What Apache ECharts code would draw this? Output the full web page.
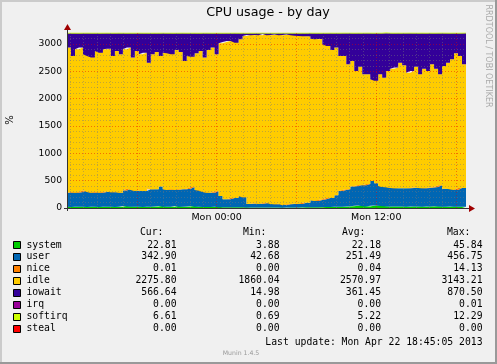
<!DOCTYPE html>
<html>
<head>
<meta charset="utf-8">
<script src="https://cdn.jsdelivr.net/npm/echarts@6/dist/echarts.min.js"></script>
<style>
html,body{margin:0;padding:0;background:#f0f0f0;}
#c{width:497px;height:364px;}
</style>
</head>
<body>
<div id="c"></div>
<script>
// ---- data (hours relative to Mon 00:00; one sample every 0.3 h) ----
const startHour = -11.25;
const stepHour = 0.3;
const endHour = 18.75;

const xTickValues = [0, 12];
const xTickLabels = ['Mon 00:00', 'Mon 12:00'];
const yTickValues = [0, 500, 1000, 1500, 2000, 2500, 3000];

const systemVals = [
 22,20,22,24,22,20,22,24,20,22,
 24,22,20,22,35,28,22,24,22,20,
 24,22,26,38,24,22,24,36,22,24,
 26,38,24,22,20,18,20,22,16,14,
 14,16,15,16,14,10,9,8,10,9,
 8,10,9,8,4,9,10,8,9,12,
 12,14,15,16,18,18,20,22,24,25,
 28,30,42,44,30,28,40,45,42,30,
 28,26,26,28,26,25,26,28,26,25,
 26,28,30,26,24,25,26,24,22,23];
const userVals = [
 259,273,259,269,302,273,259,269,261,271,
 275,265,273,259,283,326,308,287,296,291,
 318,320,316,353,318,308,318,294,320,318,
 328,347,306,296,273,263,261,283,204,145,
 145,167,168,204,181,63,70,77,63,76,
 90,63,58,71,45,58,63,71,64,86,
 86,126,113,131,141,165,163,210,287,305,
 314,361,361,377,385,412,456,407,361,355,
 351,340,334,332,334,335,340,345,340,335,
 340,345,355,389,330,329,316,306,344,343];
const niceVals = [
 0,0,0,0,0,0,0,0,0,0,
 0,0,0,0,0,0,0,0,0,0,
 14,0,0,0,0,0,0,0,0,0,
 0,0,0,0,0,0,0,0,0,0,
 0,0,0,0,0,0,0,0,0,0,
 0,0,0,0,0,0,0,0,0,0,
 0,0,0,0,0,0,0,0,0,0,
 0,0,0,0,0,0,0,0,0,0,
 0,0,0,0,0,0,0,0,0,0,
 0,0,0,0,0,0,0,0,0,0];
const idleVals = [
 2652,2487,2621,2640,2487,2487,2469,2579,2560,2609,
 2615,2493,2579,2530,2584,2579,2420,2561,2493,2530,
 2302,2469,2511,2389,2499,2499,2469,2560,2511,2347,
 2426,2383,2499,2554,2457,2609,2652,2506,2792,2877,
 2896,2872,2841,2865,2951,3092,3079,3080,3085,3095,
 3060,3092,3104,3079,3116,3104,3085,3073,3073,3042,
 3042,2957,2957,2944,2835,2780,2707,2701,2469,2450,
 2286,2298,2103,2164,2030,2005,1860,1873,2042,1999,
 2127,2182,2207,2298,2249,2115,2140,2212,2079,2188,
 2140,2255,2163,2030,2243,2304,2377,2499,2414,2262];
const iowaitVals = [
 262,415,293,262,384,415,445,323,354,293,
 281,415,323,384,293,262,445,323,384,354,
 537,384,342,415,354,366,384,305,342,506,
 415,427,366,323,445,305,262,384,183,159,
 140,140,171,110,49,30,37,30,37,15,
 37,30,24,37,30,24,37,43,49,55,
 55,98,110,104,201,232,305,262,415,415,
 567,506,689,610,750,750,839,870,750,811,
 689,647,628,537,586,720,689,610,750,647,
 689,567,647,750,598,537,476,366,415,567];
const irqVals = [
 0,0,0,0,0,0,0,0,0,0,
 0,0,0,0,0,0,0,0,0,0,
 0,0,0,0,0,0,0,0,0,0,
 0,0,0,0,0,0,0,0,0,0,
 0,0,0,0,0,0,0,0,0,0,
 0,0,0,0,0,0,0,0,0,0,
 0,0,0,0,0,0,0,0,0,0,
 0,0,0,0,0,0,0,0,0,0,
 0,0,0,0,0,0,0,0,0,0,
 0,0,0,0,0,0,0,0,0,0];
const softirqVals = [
 5,5,4,5,6,5,5,4,5,6,
 5,5,6,5,4,5,5,6,5,5,
 4,5,5,6,5,5,4,5,6,5,
 5,5,4,5,6,5,5,5,4,5,
 5,6,5,5,4,5,5,5,6,5,
 5,4,5,5,6,5,5,4,5,5,
 6,5,5,4,5,6,5,5,6,7,
 6,5,6,5,7,6,5,6,5,12,
 6,5,6,5,6,7,6,5,6,5,
 6,5,6,7,6,5,6,5,6,7];
const stealVals = [
 0,0,0,0,0,0,0,0,0,0,
 0,0,0,0,0,0,0,0,0,0,
 0,0,0,0,0,0,0,0,0,0,
 0,0,0,0,0,0,0,0,0,0,
 0,0,0,0,0,0,0,0,0,0,
 0,0,0,0,0,0,0,0,0,0,
 0,0,0,0,0,0,0,0,0,0,
 0,0,0,0,0,0,0,0,0,0,
 0,0,0,0,0,0,0,0,0,0,
 0,0,0,0,0,0,0,0,0,0];

const seriesNames = ['system','user','nice','idle','iowait','irq','softirq','steal'];
const seriesColors = ['#00CC00','#0066B3','#FF8000','#FFCC00','#330099','#990099','#CCFF00','#FF0000'];
const seriesValues = [systemVals,userVals,niceVals,idleVals,iowaitVals,irqVals,softirqVals,stealVals];

const curVals = ['22.81','342.90','0.01','2275.80','566.64','0.00','6.61','0.00'];
const minVals = ['3.88','42.68','0.00','1860.04','14.98','0.00','0.69','0.00'];
const avgVals = ['22.18','251.49','0.04','2570.97','361.45','0.00','5.22','0.00'];
const maxVals = ['45.84','456.75','14.13','3143.21','870.50','0.01','12.29','0.00'];

const titleText = 'CPU usage - by day';
const yAxisName = '%';
const lastUpdate = 'Last update: Mon Apr 22 18:45:05 2013';
const versionText = 'Munin 1.4.5';
const sideText = 'RRDTOOL / TOBI OETIKER';

// ---- build ----
const nSamples = seriesValues[0].length;
// category boundaries: sample i covers [t_i, t_i+1]; one extra boundary at the end
const times = [];
for (let i = 0; i <= nSamples; i++) times.push(+(startHour + i * stepHour).toFixed(2));
function toData(vals) {
  const d = vals.slice();
  d.push(vals[vals.length - 1]);
  return d;
}

const chart = echarts.init(document.getElementById('c'), null, {renderer: 'canvas'});

const series = seriesNames.map((n, k) => ({
  name: n,
  type: 'line',
  stack: 'cpu',
  step: 'end',
  symbol: 'none',
  showSymbol: false,
  xAxisIndex: 0,
  yAxisIndex: 0,
  data: toData(seriesValues[k]),
  lineStyle: {width: n === 'softirq' ? 1 : 0, color: seriesColors[k]},
  itemStyle: {color: seriesColors[k]},
  areaStyle: {color: seriesColors[k], opacity: 1},
  z: 2
}));

const gridMinor = 'rgba(120,120,120,0.45)';
const gridMajor = 'rgba(230,0,0,0.45)';
const hourLines = [];
for (let h = Math.ceil(startHour); h <= Math.floor(endHour); h++) {
  hourLines.push({
    xAxis: h,
    lineStyle: {color: h % 6 === 0 ? gridMajor : gridMinor, type: [1, 2], width: 1}
  });
}
series.push({
  name: 'vgrid',
  type: 'line',
  xAxisIndex: 1,
  yAxisIndex: 0,
  data: [],
  symbol: 'none',
  z: 4,
  silent: true,
  markLine: {
    silent: true,
    symbol: ['none', 'none'],
    label: {show: false},
    animation: false,
    data: hourLines
  }
});

const monoFont = '9.75px "DejaVu Sans Mono"';
const graphics = [];
graphics.push({type:'rect', shape:{x:0,y:0,width:497,height:2}, style:{fill:'#CBCBCB'}, z:100});
graphics.push({type:'rect', shape:{x:0,y:0,width:2,height:364}, style:{fill:'#CBCBCB'}, z:100});
graphics.push({type:'rect', shape:{x:495,y:0,width:2,height:364}, style:{fill:'#999999'}, z:100});
graphics.push({type:'rect', shape:{x:0,y:362,width:497,height:2}, style:{fill:'#999999'}, z:100});

function txt(t, x, y, opt) {
  opt = opt || {};
  return {
    type: 'text', x: x, y: y, rotation: opt.rotation || 0, z: 100,
    style: {
      text: t, font: opt.font || monoFont, fill: opt.fill || '#000',
      align: opt.align || 'left', verticalAlign: 'middle',
      textAlign: opt.align || 'left', textVerticalAlign: 'middle'
    }
  };
}
graphics.push(txt(titleText, 268, 13, {font: '12.7px "DejaVu Sans"', align: 'center'}));
graphics.push(txt(yAxisName, 10, 120, {font: '10px "DejaVu Sans"', align: 'center', rotation: Math.PI / 2}));
graphics.push(txt(sideText, 488, 56, {font: '8px "DejaVu Sans"', align: 'center', rotation: -Math.PI / 2, fill: '#aaaaaa'}));

graphics.push(txt('Cur:', 140, 232));
graphics.push(txt('Min:', 243, 232));
graphics.push(txt('Avg:', 342, 232));
graphics.push(txt('Max:', 447, 232));
seriesNames.forEach((n, k) => {
  const y = 245 + k * 11.95;
  graphics.push({type:'rect', shape:{x:13.5, y:Math.round(y) - 3.5, width:7, height:7},
    style:{fill: seriesColors[k], stroke:'#000', lineWidth:1}, z:100});
  graphics.push(txt(n, 26.5, y));
  graphics.push(txt(curVals[k], 176.5, y, {align:'right'}));
  graphics.push(txt(minVals[k], 279.5, y, {align:'right'}));
  graphics.push(txt(avgVals[k], 381, y, {align:'right'}));
  graphics.push(txt(maxVals[k], 482.5, y, {align:'right'}));
});
graphics.push(txt(lastUpdate, 482.5, 342, {align:'right'}));
graphics.push(txt(versionText, 241, 353, {font: '6.2px "DejaVu Sans"', align: 'center', fill: '#999999'}));

chart.setOption({
  animation: false,
  backgroundColor: '#f0f0f0',
  grid: {left: 67, top: 33, width: 399, height: 175, containLabel: false},
  xAxis: [
    {
      type: 'category', data: times, boundaryGap: false,
      axisLine: {show: false}, axisTick: {show: false},
      splitLine: {show: false}, axisLabel: {show: false}
    },
    {
      type: 'value', min: startHour, max: endHour, show: false,
      splitLine: {show: false}
    }
  ],
  yAxis: {
    type: 'value', min: 0, max: 3200, interval: 100, z: 3,
    axisLine: {show: false}, axisTick: {show: false},
    axisLabel: {
      formatter: v => (yTickValues.indexOf(v) >= 0 ? String(v) : ''),
      color: '#000', fontFamily: 'DejaVu Sans', fontSize: 9.2, margin: 5
    },
    splitLine: {
      show: true, showMaxLine: false,
      lineStyle: {
        color: [gridMajor, gridMinor, gridMinor, gridMinor, gridMinor],
        type: [1, 2], width: 1
      }
    }
  },
  series: series,
  graphic: graphics
});

// axis lines, arrows and time labels placed through the axis scales
const o = chart.convertToPixel({xAxisIndex: 1, yAxisIndex: 0}, [startHour, 0]);
const e = chart.convertToPixel({xAxisIndex: 1, yAxisIndex: 0}, [endHour, 3200]);
const axCol = '#333';
const arrowCol = '#a00000';
graphics.push({type:'line', shape:{x1:o[0]-3, y1:o[1]+0.5, x2:e[0]+3, y2:o[1]+0.5}, style:{stroke:axCol, lineWidth:1}, z:90});
graphics.push({type:'polygon', shape:{points:[[e[0]+3,o[1]-3],[e[0]+9,o[1]+0.5],[e[0]+3,o[1]+4]]}, style:{fill:arrowCol}, z:90});
graphics.push({type:'line', shape:{x1:o[0]+0.5, y1:o[1]+3, x2:o[0]+0.5, y2:e[1]-3}, style:{stroke:axCol, lineWidth:1}, z:90});
graphics.push({type:'polygon', shape:{points:[[o[0]-3,e[1]-3],[o[0]+0.5,e[1]-9],[o[0]+4,e[1]-3]]}, style:{fill:arrowCol}, z:90});
xTickValues.forEach((v, i) => {
  const p = chart.convertToPixel({xAxisIndex: 1, yAxisIndex: 0}, [v, 0]);
  graphics.push(txt(xTickLabels[i], p[0], p[1] + 10, {font: '9.5px "DejaVu Sans"', align: 'center'}));
});
chart.setOption({graphic: graphics});
</script>
</body>
</html>
